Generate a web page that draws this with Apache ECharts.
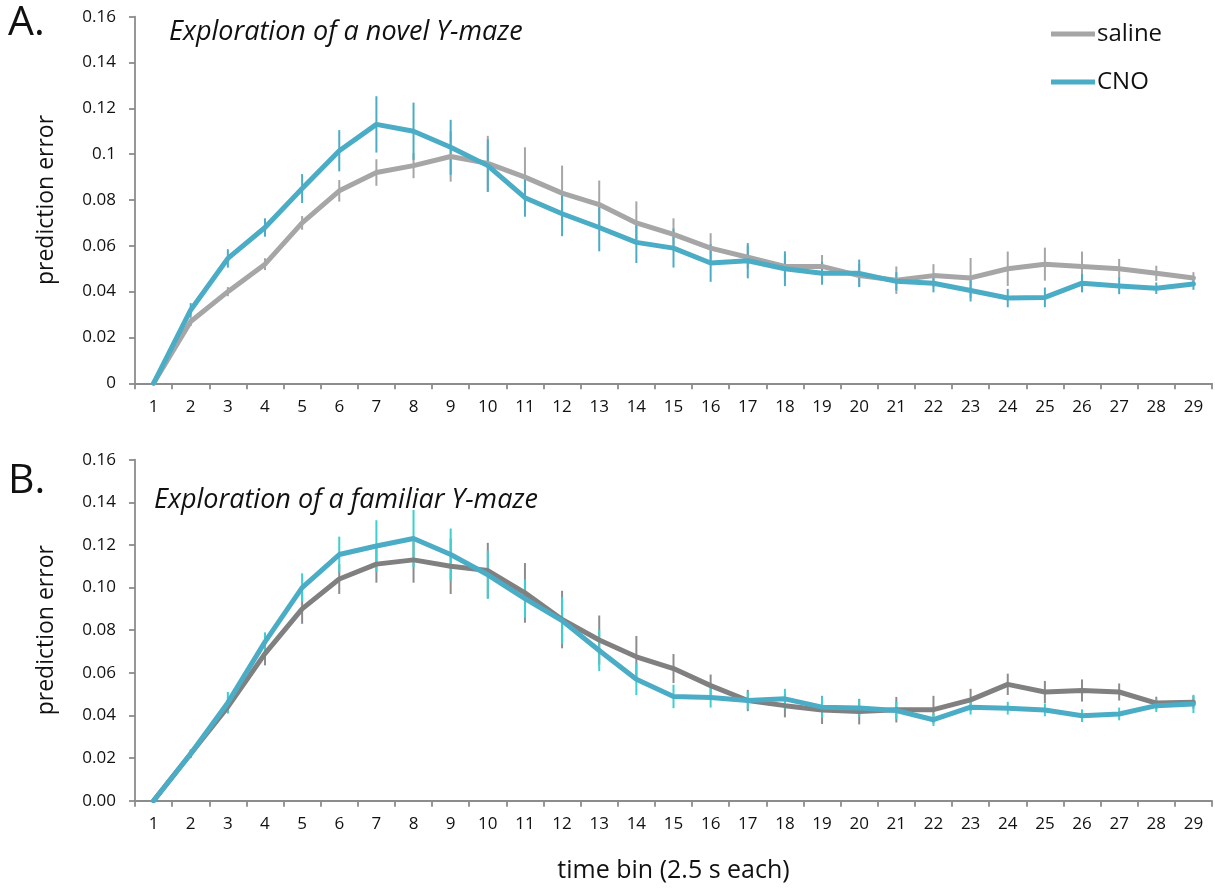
<!DOCTYPE html>
<html><head><meta charset="utf-8">
<script src="https://cdn.jsdelivr.net/npm/echarts@6/dist/echarts.min.js"></script>
<style>html,body{margin:0;padding:0;background:#fff}#c{width:1215px;height:888px}</style>
</head><body><div id="c"></div>
<script>
const categories = ['1','2','3','4','5','6','7','8','9','10','11','12','13','14','15','16','17','18','19','20','21','22','23','24','25','26','27','28','29'];
const yTicks = [0, 0.02, 0.04, 0.06, 0.08, 0.1, 0.12, 0.14, 0.16];

const topSaline = [0, 0.027, 0.040, 0.052, 0.070, 0.084, 0.092, 0.095, 0.099, 0.096, 0.090, 0.083, 0.078, 0.070, 0.065, 0.059, 0.055, 0.051, 0.051, 0.047, 0.045, 0.047, 0.046, 0.050, 0.052, 0.051, 0.050, 0.048, 0.046];
const topSalineErr = [0, 0.002, 0.002, 0.0026, 0.003, 0.0047, 0.0058, 0.0055, 0.011, 0.012, 0.013, 0.012, 0.0105, 0.0094, 0.007, 0.0065, 0.005, 0.005, 0.005, 0.005, 0.006, 0.005, 0.0087, 0.0075, 0.0072, 0.0065, 0.0043, 0.0033, 0.0025];
const topCNO = [0, 0.032, 0.0545, 0.068, 0.085, 0.1015, 0.113, 0.110, 0.103, 0.095, 0.081, 0.074, 0.068, 0.0615, 0.059, 0.0525, 0.0535, 0.050, 0.048, 0.048, 0.0445, 0.0437, 0.0405, 0.0372, 0.0375, 0.0437, 0.0425, 0.0415, 0.0433];
const topCNOErr = [0, 0.003, 0.004, 0.004, 0.0063, 0.009, 0.0123, 0.0125, 0.012, 0.0115, 0.0083, 0.0098, 0.0104, 0.009, 0.0085, 0.0082, 0.0077, 0.0076, 0.005, 0.006, 0.004, 0.004, 0.0048, 0.004, 0.0043, 0.004, 0.0036, 0.0025, 0.0025];

const botSaline = [0, 0.022, 0.044, 0.069, 0.090, 0.104, 0.111, 0.113, 0.110, 0.108, 0.0975, 0.085, 0.0754, 0.0675, 0.062, 0.054, 0.047, 0.0446, 0.0426, 0.0418, 0.0427, 0.0427, 0.0473, 0.0546, 0.051, 0.0517, 0.051, 0.0458, 0.0462];
const botSalineErr = [0, 0.002, 0.003, 0.0055, 0.007, 0.007, 0.0087, 0.0107, 0.013, 0.013, 0.014, 0.0135, 0.0115, 0.0098, 0.0068, 0.0052, 0.005, 0.0055, 0.0066, 0.006, 0.006, 0.0065, 0.0052, 0.005, 0.0052, 0.0052, 0.004, 0.003, 0.003];
const botCNO = [0, 0.022, 0.046, 0.0745, 0.1, 0.1155, 0.1195, 0.123, 0.1155, 0.106, 0.0948, 0.0845, 0.0705, 0.057, 0.0489, 0.0484, 0.047, 0.0478, 0.0439, 0.0435, 0.0423, 0.038, 0.0439, 0.0434, 0.0426, 0.0399, 0.0407, 0.0446, 0.0454];
const botCNOErr = [0, 0.002, 0.005, 0.0045, 0.0067, 0.0084, 0.0121, 0.0134, 0.0122, 0.0113, 0.009, 0.011, 0.0097, 0.0075, 0.0055, 0.0047, 0.004, 0.0047, 0.005, 0.004, 0.004, 0.003, 0.0035, 0.003, 0.003, 0.003, 0.003, 0.003, 0.0043];

const FONT = '"Open Sans", "Noto Sans", sans-serif';
const axisColor = '#8c8c8c';
const textColor = '#111';

function errSeries(name, idx, vals, errs, color) {
  return {
    type: 'custom', name: name + '_err', xAxisIndex: idx, yAxisIndex: idx, silent: true,
    data: categories.map((c, i) => [i, vals[i], errs[i]]),
    encode: { x: 0, y: 1 },
    renderItem: function (params, api) {
      const x = api.value(0), v = api.value(1), e = api.value(2);
      if (!e) return null;
      const p1 = api.coord([x, v + e]);
      const p2 = api.coord([x, v - e]);
      return { type: 'line', shape: { x1: p1[0], y1: p1[1], x2: p2[0], y2: p2[1] },
        style: { stroke: color, lineWidth: 2 } };
    }
  };
}
function lineSeries(name, idx, vals, color) {
  return {
    type: 'line', name: name, xAxisIndex: idx, yAxisIndex: idx, data: vals,
    symbol: 'none', lineStyle: { color: color, width: 5, join: 'round', cap: 'round' }, itemStyle: { color: color },
    animation: false
  };
}
function xAxis(idx, showName) {
  return {
    type: 'category', gridIndex: idx, data: categories, boundaryGap: true,
    axisLine: { lineStyle: { color: axisColor, width: 1.8 } },
    axisTick: { show: true, interval: 0, length: 6, lineStyle: { color: axisColor, width: 1.8 } },
    axisLabel: { interval: 0, fontSize: 17, color: textColor, fontFamily: FONT, margin: 15 },
    name: showName ? 'time bin (2.5 s each)' : '', nameLocation: 'middle', nameGap: 58,
    nameTextStyle: { fontSize: 25, color: textColor, fontFamily: FONT }
  };
}
function yAxis(idx, fmt) {
  return {
    type: 'value', gridIndex: idx, min: yTicks[0], max: yTicks[yTicks.length - 1], interval: 0.02,
    splitLine: { show: false },
    axisLine: { show: true, lineStyle: { color: axisColor, width: 1.8 } },
    axisTick: { show: true, length: 6, lineStyle: { color: axisColor, width: 1.8 } },
    axisLabel: { fontSize: 17, color: textColor, fontFamily: FONT, margin: 19, formatter: fmt },
    name: 'prediction error', nameLocation: 'middle', nameGap: 77, nameRotate: 90,
    nameTextStyle: { fontSize: 23, color: textColor, fontFamily: FONT }
  };
}

const chart = echarts.init(document.getElementById('c'));
chart.setOption({
  animation: false,
  backgroundColor: '#fff',
  title: [
    { text: 'A.', left: 3, top: -2, textStyle: { fontSize: 41, fontWeight: 'normal', color: textColor, fontFamily: FONT } },
    { text: 'B.', left: 3, top: 456, textStyle: { fontSize: 41, fontWeight: 'normal', color: textColor, fontFamily: FONT } },
    { text: 'Exploration of a novel Y-maze', left: 164, top: 14, textStyle: { fontSize: 27, fontStyle: 'italic', fontWeight: 'normal', color: textColor, fontFamily: FONT } },
    { text: 'Exploration of a familiar Y-maze', left: 149, top: 482, textStyle: { fontSize: 27, fontStyle: 'italic', fontWeight: 'normal', color: textColor, fontFamily: FONT } }
  ],
  legend: {
    orient: 'vertical', left: 1046, top: 17, itemWidth: 44, itemHeight: 5, itemGap: 24, icon: 'rect',
    data: ['saline', 'CNO'],
    textStyle: { fontSize: 24, color: textColor, fontFamily: FONT, padding: [0, 0, 0, -3] }
  },
  grid: [
    { left: 135, top: 16.7, width: 1077, height: 366.6 },
    { left: 135, top: 459.7, width: 1077, height: 341 }
  ],
  xAxis: [xAxis(0, false), xAxis(1, true)],
  yAxis: [
    yAxis(0, v => String(+v.toFixed(2))),
    yAxis(1, v => v.toFixed(2))
  ],
  series: [
    lineSeries('saline', 0, topSaline, '#a6a6a6'),
    errSeries('saline', 0, topSaline, topSalineErr, '#a6a6a6'),
    lineSeries('CNO', 0, topCNO, '#4bacc6'),
    errSeries('CNO', 0, topCNO, topCNOErr, '#4bacc6'),
    lineSeries('saline', 1, botSaline, '#808080'),
    errSeries('saline', 1, botSaline, botSalineErr, '#8c8c8c'),
    lineSeries('CNO', 1, botCNO, '#4bacc6'),
    errSeries('CNO', 1, botCNO, botCNOErr, '#3cd0d0')
  ]
});
</script></body></html>
